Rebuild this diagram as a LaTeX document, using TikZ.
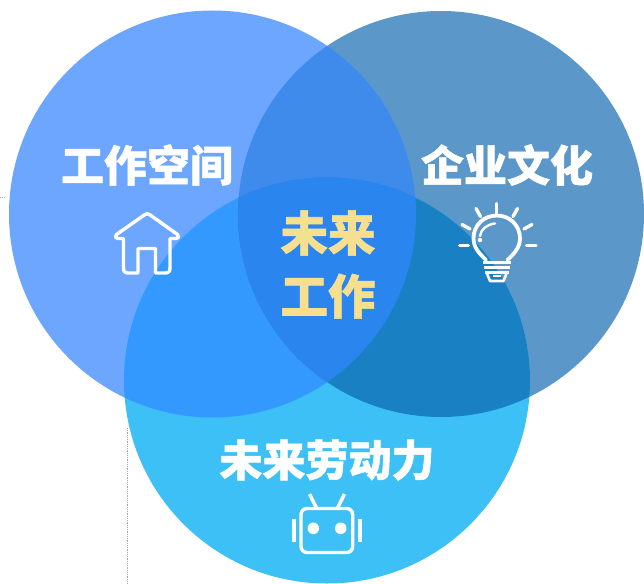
\documentclass[tikz,border=0pt]{standalone}
\usepackage{fontspec}
\newfontfamily\cjk[BoldFeatures={FakeBold=1.2}]{Noto Sans CJK SC}
\definecolor{cL}{HTML}{6CA6FF}
\definecolor{cR}{HTML}{5B97C8}
\definecolor{cB}{HTML}{3DC0F5}
\definecolor{cLR}{HTML}{3E8BEC}
\definecolor{cLB}{HTML}{3399FF}
\definecolor{cRB}{HTML}{1A80C4}
\definecolor{cLRB}{HTML}{2B85EE}
\definecolor{cGold}{HTML}{F6E08F}
\tikzset{
  lbl/.style={font=\cjk\bfseries\fontsize{43}{50}\selectfont,text=white,inner sep=0pt},
  ctr/.style={font=\cjk\bfseries\fontsize{47.5}{63}\selectfont,text=cGold,inner sep=0pt,align=center},
  icon/.style={draw=white,line width=3.4pt,line cap=round,line join=round,fill=none},
  guide/.style={draw=black!35,line width=0.8pt,densely dotted}
}
\def\circL{(212.5,214) circle[radius=203.5]}
\def\circR{(441,214) circle[radius=203]}
\def\circB{(327,380.5) circle[radius=203]}
\begin{document}
\begin{tikzpicture}[x=1pt,y=-1pt]
\useasboundingbox (0,0) rectangle (644,583);
\fill[white] (0,0) rectangle (644,583);
\draw[guide] (127,428) -- (127,583);
\draw[guide] (0,197) -- (4,197);
\fill[cR] \circR;
\fill[cL] \circL;
\fill[cB] \circB;
\begin{scope}\clip \circL; \fill[cLR] \circR; \end{scope}
\begin{scope}\clip \circL; \fill[cLB] \circB; \end{scope}
\begin{scope}\clip \circR; \fill[cRB] \circB; \end{scope}
\begin{scope}\clip \circL; \clip \circR; \fill[cLRB] \circB; \end{scope}
\node[lbl] (workspace) at (147,165) {工作空间};
\node[lbl] (culture) at (507,165) {企业文化};
\node[lbl] (workforce) at (327,460) {未来劳动力};
\node[ctr] (future) at (328,264.5) {未来\\工作};
% house
\draw[icon] (123.5,238.5) -- (117.5,238.5) .. controls (115,238.5) and (114.5,236) .. (116.5,234.5)
  -- (145,214.5) .. controls (146.5,213.5) and (148,213.5) .. (149.5,214.5)
  -- (177.5,234.5) .. controls (179.5,236) and (179,238.5) .. (176.5,238.5) -- (170,238.5)
  -- (170,268) .. controls (170,271.5) and (168.5,273) .. (165,273) -- (155.5,273)
  -- (155.5,248.5) -- (138,248.5) -- (138,273) -- (128.5,273)
  .. controls (125,273) and (123.5,271.5) .. (123.5,268) -- cycle;
% bulb
\draw[icon,line width=3.8pt] (486,260) .. controls (480,254) and (473.5,248) .. (473.5,238.5)
  .. controls (473.5,225) and (484,215.5) .. (496.7,215.5)
  .. controls (509.5,215.5) and (520,225) .. (520,238.5)
  .. controls (520,248) and (513.5,254) .. (507.5,260);
\draw[icon,line width=2.4pt] (480,236) .. controls (481,229) and (487,224.5) .. (495,223.5);
\fill[white] (480,240) circle[radius=2.2];
\draw[icon] (496.7,203.5) -- (496.7,213);
\draw[icon] (476,208.5) -- (480.5,216.5);
\draw[icon] (517.5,208.5) -- (513,216.5);
\draw[icon] (462,224.5) -- (470,229);
\draw[icon] (532,224.5) -- (524,229);
\draw[icon] (459.5,245.7) -- (468.5,245.7);
\draw[icon] (526.5,245.7) -- (536,245.7);
\draw[icon,line cap=butt,line width=2.6pt] (483,262.5) -- (511,262.5);
\draw[icon,line cap=butt,line width=2.6pt] (484,267.5) -- (510,267.5);
\draw[icon,line cap=butt,line width=2.6pt] (485,272.3) -- (508.5,272.3);
\draw[icon,line width=2.6pt] (486.5,272.3) -- (490,281) -- (503.5,281) -- (507,272.3);
\draw[icon,line width=1.5pt,line cap=butt] (493,276) -- (500.5,276);
% robot
\draw[icon,rounded corners=6pt] (301,508.5) rectangle (352.7,552.5);
\fill[white] (313.3,528.3) circle[radius=5.8];
\fill[white] (340.7,528.3) circle[radius=5.8];
\fill[white] (292.3,518.5) rectangle (296,541.7);
\fill[white] (358.3,518.5) rectangle (362,541.7);
\draw[icon,line cap=butt] (309.5,494) -- (316.5,508);
\draw[icon,line cap=butt] (344.5,494) -- (337.5,508);
\end{tikzpicture}
\end{document}
